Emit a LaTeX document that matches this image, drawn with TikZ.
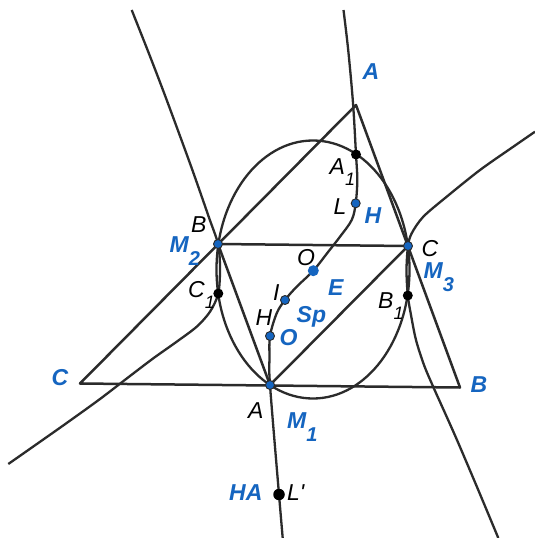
\documentclass[tikz,border=0pt]{standalone}
\usepackage{fontspec}
\newfontfamily\labfont{Liberation Sans}
\definecolor{geoblue}{HTML}{1565C0}
\definecolor{ink}{HTML}{2B2B2B}
\tikzset{
  curve/.style={draw=ink, line width=2.3pt, line join=round},
  seg/.style={draw=ink, line width=2.5pt, line join=round},
  bluelab/.style={anchor=base west, inner sep=0pt, text=geoblue, font=\labfont\bfseries\itshape\fontsize{23}{23}\selectfont},
  blacklab/.style={anchor=base west, inner sep=0pt, text=black, font=\labfont\itshape\fontsize{23}{23}\selectfont},
  bluedot/.style={circle, fill=geoblue, draw=ink, line width=0.9pt, minimum size=9pt, inner sep=0pt},
  bigbluedot/.style={circle, fill=geoblue, minimum size=11pt, inner sep=0pt},
  blackdot/.style={circle, fill=black, minimum size=10pt, inner sep=0pt},
}
\newcommand{\bsub}[1]{\raisebox{-13pt}{\fontsize{20}{20}\selectfont #1}}
\newcommand{\ksub}[1]{\raisebox{-11.5pt}{\fontsize{18}{18}\selectfont #1}}
\begin{document}
\begin{tikzpicture}[x=1pt,y=-1pt]
\useasboundingbox (0,0) rectangle (535,538);
\fill[white] (0,0) rectangle (535,538);
% main points
\coordinate (Ab) at (356,105);
\coordinate (Cb) at (80,383.5);
\coordinate (Bb) at (460,387.5);
\coordinate (M1) at (270,385);
\coordinate (M2) at (218,244);
\coordinate (M3) at (408,246);
\coordinate (N) at (313,269.5);
\coordinate (A1) at (356,154.5);
\coordinate (C1) at (218.3,293.5);
\coordinate (B1) at (407.8,295.5);
\coordinate (Lp) at (279,494.5);
\coordinate (Lh) at (355.7,203.3);
\coordinate (E) at (313.3,270.7);
\coordinate (Ip) at (285,300);
\coordinate (Op) at (270,336);
% triangles
\draw[seg] (Ab) -- (Cb) -- (Bb) -- cycle;
\draw[seg] (M1) -- (M2) -- (M3) -- cycle;
% ellipse
\draw[curve] (N) ellipse [x radius=96.5pt, y radius=129pt];
% middle curve
\draw[curve] plot[smooth, tension=0.55] coordinates {(343.5,10) (348.2,50) (353,103) (A1) (357.3,180) (Lh) (351.7,220) (340,236.7) (328.3,251.7) (E) (296.7,286.7) (Ip) (276.7,313.3) (Op) (269.5,358) (M1) (Lp) (282.7,538)};
% left curve
\draw[curve] plot[smooth, tension=0.5] coordinates {(131.7,10) (149.5,55) (166.7,100) (191.3,167) (208.8,217) (M2) (220,268) (C1) (210,311.7) (196.7,326.7) (176.7,341.7) (153.3,358.3) (130,376) (100,399) (66.7,423) (33.3,446.5) (8.3,464)};
% right curve
\draw[curve] plot[smooth, tension=0.5] coordinates {(535,131.7) (513.3,146.7) (480,170) (446.7,196.7) (423.3,216.7) (411.7,233.3) (M3) (406.5,270) (B1) (411,315) (416,340) (424,365) (433.3,387) (445,413) (457,440) (477,487) (498.3,538)};
% dots
\node[bluedot] (dM1) at (M1) {};
\node[bluedot] (dM2) at (M2) {};
\node[bluedot] (dM3) at (M3) {};
\node[bluedot] (dLh) at (Lh) {};
\node[bigbluedot] (dE) at (E) {};
\node[bluedot] (dIp) at (Ip) {};
\node[bluedot] (dOp) at (Op) {};
\node[blackdot] (dA1) at (A1) {};
\node[blackdot] (dC1) at (C1) {};
\node[blackdot] (dB1) at (B1) {};
\node[blackdot, minimum size=11.5pt] (dLp) at (Lp) {};
% blue labels
\node[bluelab] (lA) at (362.5,79) {A};
\node[bluelab] (lC) at (51.5,385) {C};
\node[bluelab] (lB) at (470.5,392) {B};
\node[bluelab] (lM2) at (169.5,252.5) {M\bsub{2}};
\node[bluelab] (lM3) at (423.5,278) {M\bsub{3}};
\node[bluelab] (lM1) at (287,428) {M\bsub{1}};
\node[bluelab] (lH) at (364.5,223) {H};
\node[bluelab] (lE) at (328,295) {E};
\node[bluelab] (lSp) at (296.5,322.5) {Sp};
\node[bluelab] (lO) at (279.5,345.5) {O};
\node[bluelab] (lHA) at (229,500.5) {HA};
% black labels
\node[blacklab] (lA1) at (329.5,174) {A\ksub{1}};
\node[blacklab] (lL) at (333.5,214) {L};
\node[blacklab] (lBk) at (191,232.5) {B};
\node[blacklab] (lCk) at (421.5,256) {C};
\node[blacklab] (lC1) at (188,297) {C\ksub{1}};
\node[blacklab] (lOk) at (297,265) {O};
\node[blacklab] (lI) at (273,300.5) {I};
\node[blacklab] (lHk) at (255.5,325) {H};
\node[blacklab] (lB1) at (378,308.3) {B\ksub{1}};
\node[blacklab] (lAk) at (248,418) {A};
\node[blacklab] (lLp) at (287,500.5) {L'};
\end{tikzpicture}
\end{document}
